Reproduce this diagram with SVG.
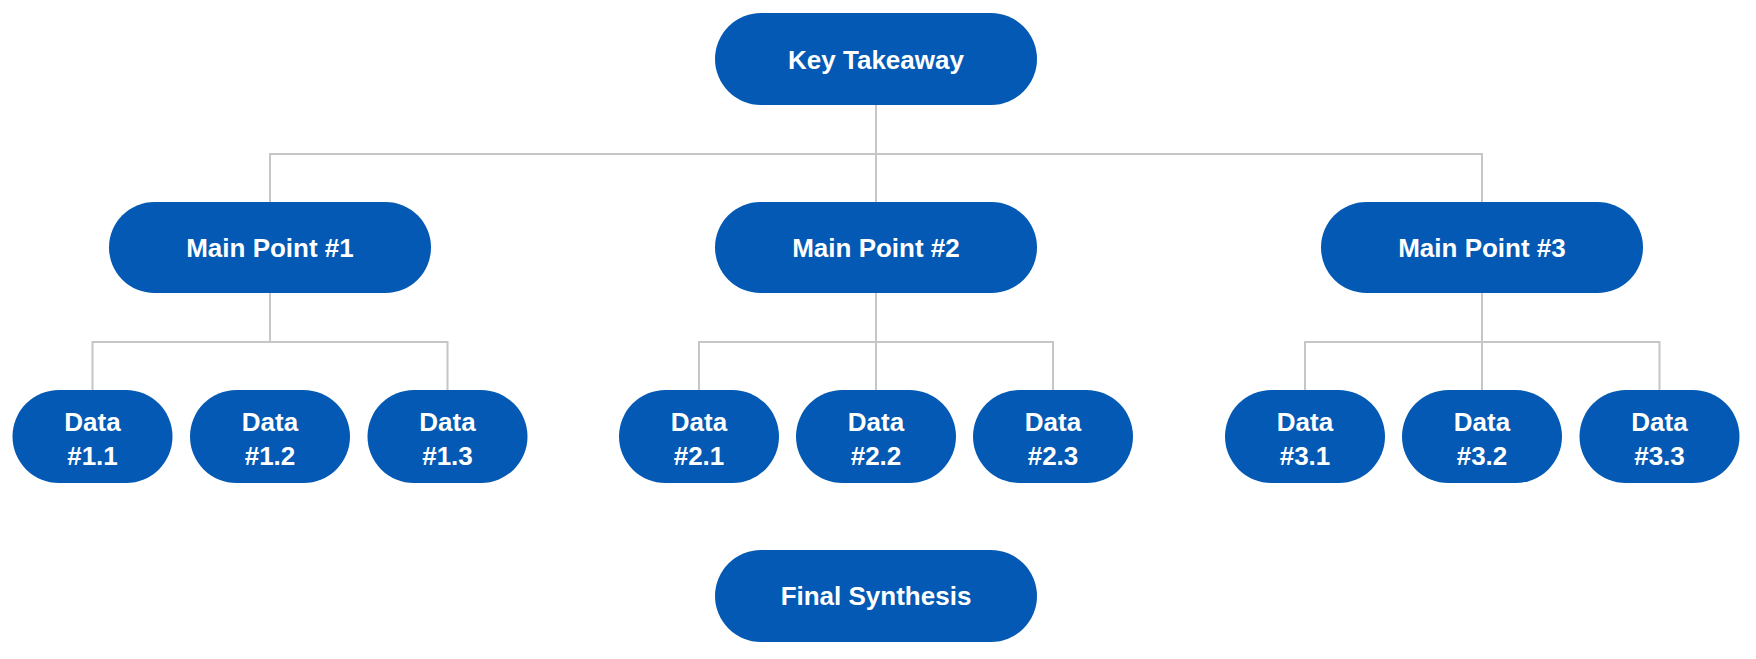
<svg xmlns="http://www.w3.org/2000/svg" width="1756" height="659" viewBox="0 0 1756 659">
  <style>
    .pill { fill: #0359B3; }
    .lbl { fill: #ffffff; font-family: "Liberation Sans", Arial, sans-serif; font-weight: bold; font-size: 26px; text-anchor: middle; }
    .wire { fill: none; stroke: #c6c6c6; stroke-width: 2; }
  </style>
  <rect width="1756" height="659" fill="#ffffff"/>

  <!-- connectors -->
  <g id="connectors" class="wire">
    <path d="M876 105 V202"/>
    <path d="M270 202 V154 H1482 V202"/>
    <path d="M270 293 V342"/>
    <path d="M92.5 390 V342 H447.5 V390"/>
    <path d="M876 293 V390"/>
    <path d="M699 390 V342 H1053 V390"/>
    <path d="M1482 293 V390"/>
    <path d="M1305 390 V342 H1659.5 V390"/>
  </g>

  <!-- top -->
  <g id="key-takeaway">
    <rect class="pill" x="715" y="13" width="322" height="92" rx="46"/>
    <text class="lbl" x="876" y="69">Key Takeaway</text>
  </g>

  <!-- main points -->
  <g id="main-point-1">
    <rect class="pill" x="109" y="202" width="322" height="91" rx="45.5"/>
    <text class="lbl" x="270" y="257">Main Point #1</text>
  </g>
  <g id="main-point-2">
    <rect class="pill" x="715" y="202" width="322" height="91" rx="45.5"/>
    <text class="lbl" x="876" y="257">Main Point #2</text>
  </g>
  <g id="main-point-3">
    <rect class="pill" x="1321" y="202" width="322" height="91" rx="45.5"/>
    <text class="lbl" x="1482" y="257">Main Point #3</text>
  </g>

  <!-- data nodes -->
  <g id="data-1-1">
    <rect class="pill" x="12.5" y="390" width="160" height="93" rx="46.5"/>
    <text class="lbl" x="92.5" y="431">Data</text>
    <text class="lbl" x="92.5" y="465">#1.1</text>
  </g>
  <g id="data-1-2">
    <rect class="pill" x="190" y="390" width="160" height="93" rx="46.5"/>
    <text class="lbl" x="270" y="431">Data</text>
    <text class="lbl" x="270" y="465">#1.2</text>
  </g>
  <g id="data-1-3">
    <rect class="pill" x="367.5" y="390" width="160" height="93" rx="46.5"/>
    <text class="lbl" x="447.5" y="431">Data</text>
    <text class="lbl" x="447.5" y="465">#1.3</text>
  </g>
  <g id="data-2-1">
    <rect class="pill" x="619" y="390" width="160" height="93" rx="46.5"/>
    <text class="lbl" x="699" y="431">Data</text>
    <text class="lbl" x="699" y="465">#2.1</text>
  </g>
  <g id="data-2-2">
    <rect class="pill" x="796" y="390" width="160" height="93" rx="46.5"/>
    <text class="lbl" x="876" y="431">Data</text>
    <text class="lbl" x="876" y="465">#2.2</text>
  </g>
  <g id="data-2-3">
    <rect class="pill" x="973" y="390" width="160" height="93" rx="46.5"/>
    <text class="lbl" x="1053" y="431">Data</text>
    <text class="lbl" x="1053" y="465">#2.3</text>
  </g>
  <g id="data-3-1">
    <rect class="pill" x="1225" y="390" width="160" height="93" rx="46.5"/>
    <text class="lbl" x="1305" y="431">Data</text>
    <text class="lbl" x="1305" y="465">#3.1</text>
  </g>
  <g id="data-3-2">
    <rect class="pill" x="1402" y="390" width="160" height="93" rx="46.5"/>
    <text class="lbl" x="1482" y="431">Data</text>
    <text class="lbl" x="1482" y="465">#3.2</text>
  </g>
  <g id="data-3-3">
    <rect class="pill" x="1579.5" y="390" width="160" height="93" rx="46.5"/>
    <text class="lbl" x="1659.5" y="431">Data</text>
    <text class="lbl" x="1659.5" y="465">#3.3</text>
  </g>

  <!-- bottom -->
  <g id="final-synthesis">
    <rect class="pill" x="715" y="550" width="322" height="92" rx="46"/>
    <text class="lbl" x="876" y="605">Final Synthesis</text>
  </g>
</svg>
